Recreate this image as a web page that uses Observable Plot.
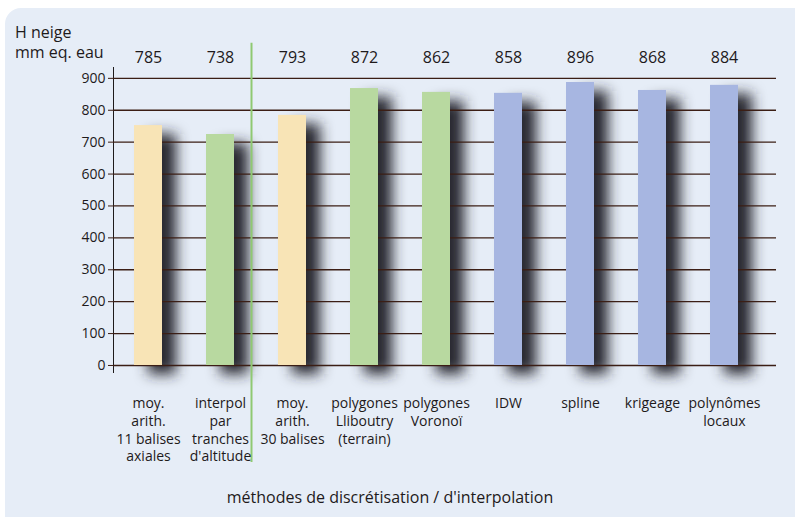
<!DOCTYPE html>
<html>
<head>
<meta charset="utf-8">
<script src="https://cdn.jsdelivr.net/npm/d3@7"></script>
<script src="https://cdn.jsdelivr.net/npm/@observablehq/plot@0.6"></script>
<style>
  html, body { margin: 0; padding: 0; background: #ffffff; }
  #wrap { position: relative; width: 795px; height: 517px; overflow: hidden; background: #ffffff;
          font-family: "Open Sans", sans-serif; color: #1e1a1b; }
  #panel { position: absolute; left: 5px; top: 8px; right: -30px; bottom: -30px;
           background: #e6edf7; border-radius: 16px; }
  #ylabel { position: absolute; left: 15px; top: 22px; font-size: 16px; line-height: 20px; }
  #xlabel { position: absolute; left: 0; width: 780px; top: 487px; text-align: center;
            font-size: 16px; line-height: 20px; }
  #chart { position: absolute; left: 0; top: 0; }
  #chart svg { background: transparent; overflow: visible; }
</style>
</head>
<body>
<div id="wrap">
  <div id="panel"></div>
  <div id="ylabel">H neige<br>mm eq. eau</div>
  <div id="xlabel">méthodes de discrétisation / d'interpolation</div>
  <div id="chart"></div>
</div>
<script>
// --- data ---
const methods = [
  "moy.\narith.\n11 balises\naxiales",
  "interpol\npar\ntranches\nd'altitude",
  "moy.\narith.\n30 balises",
  "polygones\nLliboutry\n(terrain)",
  "polygones\nVoronoï",
  "IDW",
  "spline",
  "krigeage",
  "polynômes\nlocaux"
];
const families = [
  "moyenne", "discrétisation", "moyenne", "discrétisation", "discrétisation",
  "interpolation", "interpolation", "interpolation", "interpolation"
];
// bar heights as drawn
const barValues = [752, 724, 784, 868, 856, 853, 887, 862, 878];
// values printed above the chart
const labelValues = [785, 738, 793, 872, 862, 858, 896, 868, 884];
const yTicks = [0, 100, 200, 300, 400, 500, 600, 700, 800, 900];
const familyNames = ["moyenne", "discrétisation", "interpolation"];
const familyColors = ["#f8e4b6", "#b8d9a0", "#a7b6e1"];

const rows = methods.map((m, i) => ({
  method: m, family: families[i], value: barValues[i], label: labelValues[i]
}));

const ink = "#1e1a1b";
const gridColor = "#3b1e15";

const plot = Plot.plot({
  width: 795,
  height: 517,
  marginLeft: 113,
  marginRight: 19,
  marginTop: 67,
  marginBottom: 145,
  style: { fontFamily: "Open Sans, sans-serif", fontSize: "14px", color: ink, background: "transparent" },
  x: { domain: methods, paddingInner: 0.613, paddingOuter: 0.385, align: 0.36, axis: null },
  y: { domain: [-22, 934], ticks: yTicks, tickSize: 5, tickPadding: 3, label: null, line: true },
  color: { domain: familyNames, range: familyColors },
  marks: [
    // shadows
    Plot.barY(rows, { x: "method", y: "value", fill: "#26262e", fillOpacity: 1, dx: 14, dy: 9 }),
    // gridlines
    Plot.ruleY(yTicks, { stroke: gridColor, strokeWidth: 1.3 }),
    // bars
    Plot.barY(rows, { x: "method", y: "value", fill: "family" }),
    // separator between the two groups
    Plot.ruleX([methods[1]], { dx: 31, y1: 1010, y2: -304, stroke: "#8fc972", strokeWidth: 2 }),
    // value labels on top
    Plot.text(rows, { x: "method", text: "label", frameAnchor: "top", lineAnchor: "bottom", dy: -5,
                      fontSize: 16, fill: ink }),
    // category labels below
    Plot.text(rows, { x: "method", text: "method", frameAnchor: "bottom", lineAnchor: "top", dy: 23,
                      fontSize: 14, lineHeight: 1.27, fill: ink })
  ]
});

// style axis
const svg = d3.select(plot);
svg.selectAll('g[aria-label="y-axis tick"] path, g[aria-label="y-axis tick"] line').attr("stroke", gridColor);
svg.selectAll('g[aria-label="y-axis tick label"] text').attr("fill", ink);
svg.selectAll('g[aria-label="y-axis"] line, g[aria-label="y-axis"] path').attr("stroke", gridColor);

// soft drop shadow
const defs = svg.insert("defs", ":first-child");
const f = defs.append("filter").attr("id", "soft").attr("x", "-100%").attr("y", "-20%")
  .attr("width", "300%").attr("height", "140%");
f.append("feGaussianBlur").attr("stdDeviation", 7);
const barGroups = svg.selectAll('g[aria-label="bar"]').nodes();
if (barGroups.length) d3.select(barGroups[0]).attr("filter", "url(#soft)");

document.getElementById("chart").appendChild(plot);
</script>
</body>
</html>
